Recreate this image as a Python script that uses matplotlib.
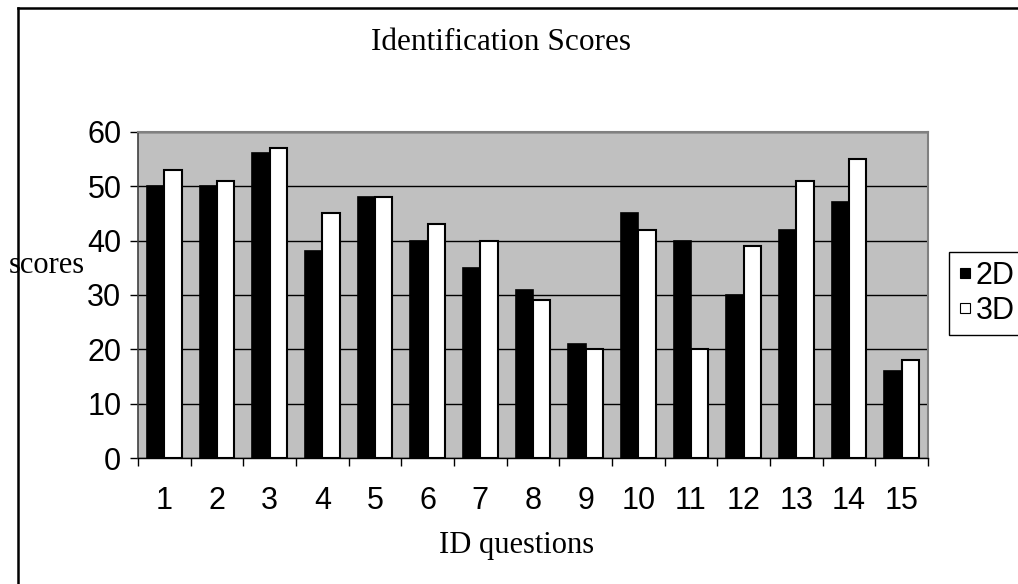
import matplotlib
matplotlib.use("Agg")
import matplotlib.pyplot as plt
import numpy as np
from matplotlib.lines import Line2D

categories = [str(i) for i in range(1, 16)]
scores_2d = [50, 50, 56, 38, 48, 40, 35, 31, 21, 45, 40, 30, 42, 47, 16]
scores_3d = [53, 51, 57, 45, 48, 43, 40, 29, 20, 42, 20, 39, 51, 55, 18]
series_names = ["2D", "3D"]
y_ticks = [0, 10, 20, 30, 40, 50, 60]

W, H = 1018, 584
fig = plt.figure(figsize=(W / 100, H / 100), dpi=100)
fig.patch.set_facecolor("white")

ax = fig.add_axes([138 / W, (H - 458.3) / H, 790 / W, 326.6 / H])
ax.set_facecolor("#C0C0C0")

x = np.arange(1, len(categories) + 1)
bw = 0.33
ax.bar(x - bw / 2, scores_2d, width=bw, color="black", edgecolor="black",
       linewidth=1.2, zorder=3)
ax.bar(x + bw / 2, scores_3d, width=bw, color="white", edgecolor="black",
       linewidth=1.5, zorder=3)

ax.set_xlim(0.5, len(categories) + 0.5)
ax.set_ylim(0, 60)
ax.set_yticks(y_ticks)
ax.yaxis.grid(True, color="black", linewidth=1.0, zorder=1)
ax.set_axisbelow(True)

ax.set_xticks(x)
ax.set_xticklabels(categories)
ax.set_xticks(np.arange(0.5, len(categories) + 1, 1.0), minor=True)
ax.tick_params(axis="x", which="major", length=0, pad=20, labelsize=22)
ax.tick_params(axis="x", which="minor", length=6, width=1.0, direction="out",
               color="black")
ax.tick_params(axis="y", which="major", length=6, width=1.0, direction="out",
               labelsize=22, pad=6, color="black")
for lab in ax.get_xticklabels() + ax.get_yticklabels():
    lab.set_fontfamily("Liberation Sans")

for s in ["top", "right"]:
    ax.spines[s].set_color("#808080")
    ax.spines[s].set_linewidth(1.5)
ax.spines["left"].set_color("#404040")
ax.spines["left"].set_linewidth(1.2)
ax.spines["bottom"].set_color("black")
ax.spines["bottom"].set_linewidth(1.0)

serif = "Liberation Serif"
fig.text(501 / W, 1 - 42 / H, "Identification Scores", ha="center", va="center",
         fontsize=22.5, family=serif)
fig.text(9 / W, 1 - 266 / H, "scores", ha="left", va="center",
         fontsize=22, family=serif)
fig.text(517 / W, 1 - 546 / H, "ID questions", ha="center", va="center",
         fontsize=22, family=serif)

handles = [Line2D([], [], linestyle="none", marker="s", markersize=6.5,
                  markerfacecolor="black", markeredgecolor="black",
                  markeredgewidth=0.8),
           Line2D([], [], linestyle="none", marker="s", markersize=6.5,
                  markerfacecolor="white", markeredgecolor="black",
                  markeredgewidth=0.8)]
leg = fig.legend(handles, series_names, loc="upper left",
                 bbox_to_anchor=(949 / W, 1 - 252 / H),
                 prop={"family": "Liberation Sans", "size": 22},
                 handlelength=0.45, handletextpad=0.12,
                 borderpad=0.3, labelspacing=0.15, borderaxespad=0,
                 fancybox=False, framealpha=1, edgecolor="black")
leg.get_frame().set_linewidth(1.0)

# figure border (top and left edges)
fig.add_artist(Line2D([18 / W, 1.0], [1 - 7.5 / H, 1 - 7.5 / H], color="black",
                      linewidth=1.8, transform=fig.transFigure))
fig.add_artist(Line2D([18 / W, 18 / W], [0, 1 - 7.5 / H], color="black",
                      linewidth=1.8, transform=fig.transFigure))

fig.savefig("out.png", dpi=100)
